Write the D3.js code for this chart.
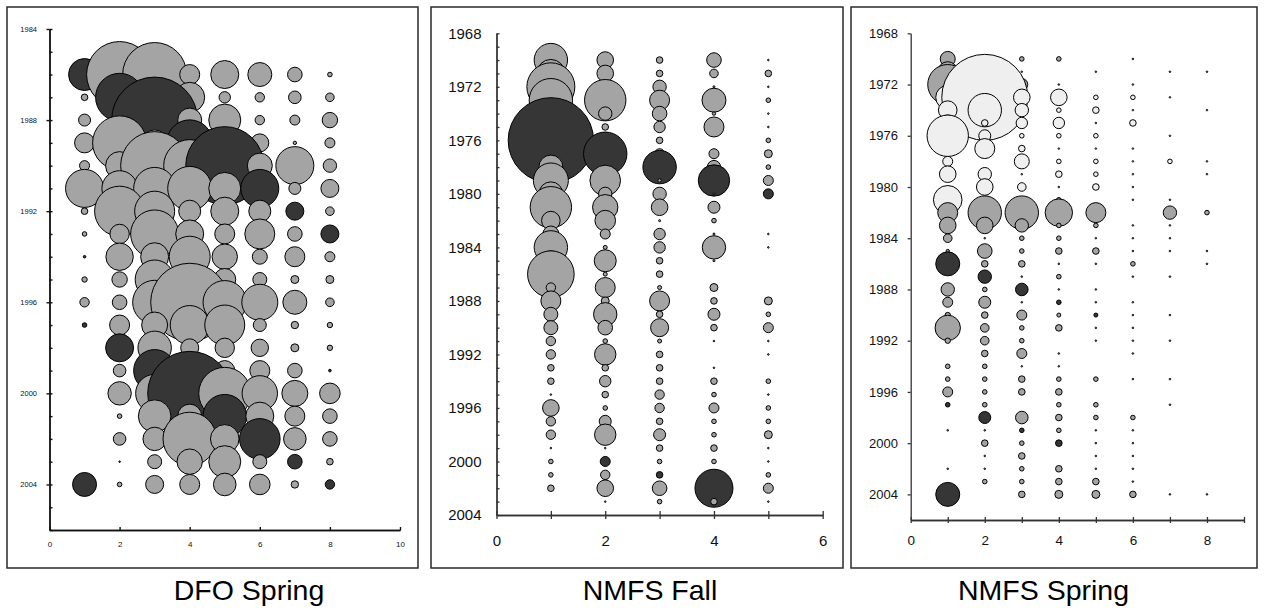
<!DOCTYPE html>
<html>
<head>
<meta charset="utf-8">
<script src="https://cdn.jsdelivr.net/npm/d3@7"></script>
<style>
  body { margin: 0; background: #fff; }
  svg { display: block; }
  text { font-family: "Liberation Sans", Arial, sans-serif; }
</style>
</head>
<body>
<svg id="chart" width="1265" height="611"></svg>
<script>
// ---- Residual bubbles by year (rows) and age (columns) ----
// kind codes: g = positive residual (grey), d = dark (flagged year), l = light (early series)

const dfoYears = d3.range(1986, 2005);
const dfoAges = [1, 2, 3, 4, 5, 6, 7, 8];
const dfoSizes = [
  [16, 33, 32, 10, 14, 12, 7.3, 2.3],
  [3.3, 24, 12, 15, 5.7, 4.7, 6.3, 4.3],
  [6, 3, 43, 12, 16, 4.7, 5, 7.7],
  [10, 27, 13, 23, 10, 9, 1.7, 5],
  [5, 14, 34, 26, 39, 12.5, 19, 6.7],
  [19, 17.7, 21, 22, 16, 19, 6, 9],
  [3.3, 25, 20, 11, 14, 11, 9, 4.3],
  [2.3, 9.7, 24, 14, 10, 15, 7.3, 9],
  [1.3, 13.7, 14, 20.5, 12.7, 7.5, 10, 5],
  [2.7, 7.7, 19.5, 15, 11, 7, 4, 4],
  [4.7, 7.3, 22, 39, 21.7, 18, 12, 4.3],
  [2.3, 10, 13, 19.5, 20, 6.5, 3.7, 2.7],
  [0, 14, 16.7, 9, 9.7, 8.7, 4, 2.7],
  [0, 6.3, 21, 12, 10, 10, 7.3, 1.3],
  [0, 11.7, 19, 42, 26, 17.7, 13, 10.3],
  [0, 2.3, 16.3, 12, 21.7, 14, 10, 7.3],
  [0, 6.3, 11.7, 26.7, 14.3, 20.3, 11.3, 7.3],
  [0, 0.8, 7, 12.7, 16, 7, 7.3, 3.3],
  [12, 2.3, 9, 10, 11.3, 10.3, 3.7, 4.7]
];
const dfoKinds = [
  "dggggggg", "gdgggggg", "ggdggggg", "gggdgggg", "ggggdggg",
  "gggggdgg", "ggggggdg", "gggggggd", "dggggggg", "gggggggg",
  "gggggggg", "dggggggg", "gdgggggg", "ggdggggd", "gggdgggg",
  "ggggdggg", "gggggdgg", "gdggggdg", "dggggggd"
];

const fallYears = d3.range(1970, 2004);
const fallAges = [1, 2, 3, 4, 5];
const fallSizes = [
  [16.7, 8.3, 3.3, 7.3, 0.8],
  [14, 8.3, 3.3, 4.3, 3.3],
  [24, 6, 6.7, 1, 0.8],
  [21.7, 20.7, 10, 12, 2.3],
  [12, 6.7, 7.3, 1.7, 0.8],
  [10, 3.3, 5.7, 10, 0.8],
  [42.7, 8, 3.3, 0, 2.3],
  [0, 21.7, 5, 5, 4],
  [12, 0, 16.7, 6.7, 2.3],
  [17.5, 15.3, 1.7, 15.7, 5],
  [12, 6.7, 6.7, 1, 5],
  [20.7, 12.7, 8.3, 6, 0],
  [9.3, 10.3, 1, 2.3, 0],
  [8, 5, 5.7, 1, 0.8],
  [16.7, 2, 5.7, 11.7, 0.8],
  [10, 11, 3.3, 1, 0],
  [23.3, 2, 3.3, 0, 0],
  [4.7, 10, 2, 4, 0],
  [10, 4, 10, 3.3, 4],
  [7, 11.7, 3.3, 6, 2.3],
  [7, 7.3, 9, 3.3, 5],
  [4.7, 2.3, 2, 0.8, 0.8],
  [4.7, 10.7, 3.3, 0, 0.8],
  [3.3, 3.3, 3.3, 0.8, 0],
  [3.3, 5.7, 3.3, 3.3, 2.3],
  [0.8, 3.3, 4.7, 2.3, 0.8],
  [8.3, 2.3, 4.7, 5, 2.3],
  [4.7, 6, 3.3, 2.3, 2.3],
  [4.7, 10.7, 6, 2.3, 4],
  [0.8, 0.8, 3.3, 3.3, 0.8],
  [2.3, 5, 2.3, 2.3, 0.8],
  [2.3, 4.7, 3.3, 0, 2.3],
  [3.3, 8.3, 7.3, 19, 5],
  [0, 0.8, 2.3, 3.3, 0.8]
];
const fallKinds = [
  "ggggg", "ggggg", "ggggg", "ggggg", "ggggg", "ggggg",
  "dgggg", "gdggg", "ggdgg", "gggdg", "ggggd",
  "ggggg", "ggggg", "ggggg", "ggggg", "ggggg", "ggggg", "ggggg",
  "ggggg", "ggggg", "ggggg", "ggggg", "ggggg", "ggggg", "ggggg",
  "ggggg", "ggggg", "ggggg", "ggggg", "ggggg",
  "gdggg", "ggdgg", "gggdg", "ggggg"
];

const springYears = d3.range(1970, 2005);
const springAges = [1, 2, 3, 4, 5, 6, 7, 8];
const springSizes = [
  [7.5, 0.8, 2.3, 2.3, 0, 0.8, 0, 0],
  [10, 5, 0.8, 0, 0.8, 0, 0.8, 0.8],
  [20, 8, 6, 0.8, 0, 0.8, 0, 0],
  [12, 43, 8.3, 8.3, 2.3, 2.3, 0.8, 0],
  [9.3, 16.7, 6.7, 2.3, 3.3, 0.8, 0, 0.8],
  [8, 3.3, 5.7, 5.7, 0.8, 3.3, 0, 0],
  [20.7, 6, 2.3, 2.3, 2.3, 0, 0.8, 0],
  [0, 10, 3.3, 0.8, 0.8, 0.8, 0, 0],
  [5, 0, 7.5, 2.3, 2.3, 0.8, 2.3, 0.8],
  [8.3, 6.7, 0.8, 3.3, 2.3, 0.8, 0, 0.8],
  [0, 8.3, 4.3, 0.8, 3.3, 0.8, 0, 0],
  [14.3, 3, 3, 2.3, 0, 0.8, 0.8, 0],
  [10, 16.7, 16.7, 13.7, 10, 0, 6.7, 2.3],
  [8.3, 8.3, 6.7, 2.3, 2.3, 0.8, 0.8, 0],
  [4.3, 0.8, 2.3, 2.3, 0.8, 0.8, 0.8, 0],
  [1.7, 7.3, 2.3, 3.3, 3.3, 0.8, 0.8, 0.8],
  [12, 3.3, 3.3, 0.8, 0.8, 2.3, 0, 0.8],
  [0, 6.7, 0.8, 2.3, 0, 0.8, 0.8, 0],
  [6.7, 2.3, 6.3, 0.8, 0.8, 0, 0, 0],
  [5, 6, 0.8, 2.3, 0.8, 0.8, 0, 0],
  [2.7, 3.3, 5, 2, 2, 0.8, 0.8, 0],
  [12.7, 4.3, 2.3, 3.3, 0.8, 0.8, 0, 0],
  [2.7, 4.3, 2.3, 0, 0.8, 0.8, 0.8, 0],
  [0, 3.3, 5, 0.8, 0, 0.8, 0, 0],
  [2.3, 2.3, 0.8, 0.8, 0, 0, 0, 0],
  [2.3, 2.3, 3.3, 2.3, 2.3, 0.8, 0.8, 0],
  [5, 2.3, 3.3, 3.3, 0, 0, 0, 0],
  [2.3, 2.3, 0, 2.3, 2.3, 0, 0.8, 0],
  [0, 6, 6.3, 3.3, 2.3, 2.3, 0, 0],
  [0.8, 0.8, 2.3, 2.3, 0.8, 0.8, 0, 0],
  [0, 3.3, 2.3, 3.3, 0.8, 0.8, 0, 0],
  [0, 0.8, 3.3, 0, 0.8, 0.8, 0, 0],
  [0.8, 0.8, 2.3, 3.3, 0.8, 0.8, 0, 0],
  [0, 2.3, 2.3, 3.3, 3.3, 0.8, 0, 0],
  [12, 0, 3.3, 4, 4, 3.3, 0.8, 0.8]
];
const springKinds = [
  "gggggggg", "gggggggg", "gggggggg",
  "llllllll", "llllllll", "llllllll", "llllllll", "llllllll",
  "llllllll", "llllllll", "llllllll", "lggggggg",
  "gggggggg", "gggggggg", "gggggggg", "gggggggg",
  "dggggggg", "gdgggggg", "ggdggggg", "gggdgggg", "ggggdggg",
  "gggggggg", "gggggggg", "gggggggg", "gggggggg", "gggggggg", "gggggggg",
  "dggggggg", "gdgggggg", "ggdggggg", "gggdgggg",
  "gggggggg", "gggggggg", "gggggggg", "dggggggg"
];

const titles = ["DFO Spring", "NMFS Fall", "NMFS Spring"];

// ---- drawing ----
const svg = d3.select("#chart");
const fills = { g: "#a4a4a4", d: "#363636", l: "#efefef" };
const r = d3.scaleLinear().domain([0, 43]).range([0, 43]);

function styleAxis(sel, size, color, width) {
  sel.attr("font-size", null).attr("font-family", null);
  sel.selectAll("text").attr("font-size", size).attr("fill", "#111");
  sel.selectAll("line").attr("stroke", color).attr("stroke-width", width);
  sel.selectAll("path.domain").attr("stroke", color).attr("stroke-width", width);
}

function drawPanel(p) {
  const g = svg.append("g");
  g.append("rect")
    .attr("x", p.frame[0]).attr("y", p.frame[1])
    .attr("width", p.frame[2] - p.frame[0]).attr("height", p.frame[3] - p.frame[1])
    .attr("fill", "none").attr("stroke", "#2a2a2a").attr("stroke-width", 1.5);

  const x = d3.scaleLinear().domain(p.xDomain).range(p.xRange);
  const y = d3.scaleLinear().domain(p.yDomain).range(p.yRange);

  const cells = [];
  p.years.forEach((yr, i) => {
    p.ages.forEach((a, j) => {
      const v = p.sizes[i][j];
      if (v > 0) cells.push({ yr, a, v, k: p.kinds[i][j] });
    });
  });

  g.append("g").selectAll("circle").data(cells).join("circle")
    .attr("cx", d => x(d.a))
    .attr("cy", d => y(d.yr))
    .attr("r", d => r(d.v))
    .attr("fill", d => fills[d.k])
    .attr("stroke", "#000")
    .attr("stroke-width", 1);

  const x0 = p.xRange[0], yb = p.yRange[1];

  // y axis: labelled/outer ticks, then inner ticks
  const ya = g.append("g").attr("transform", `translate(${x0},0)`)
    .call(d3.axisLeft(y).tickValues(p.yLabelTicks).tickSize(p.yOut).tickSizeOuter(0)
      .tickPadding(p.yPad).tickFormat(d3.format("d")));
  styleAxis(ya, p.font, p.axisColor, p.axisWidth);
  if (p.yInTicks.length) {
    const yb2 = g.append("g").attr("transform", `translate(${x0},0)`)
      .call(d3.axisLeft(y).tickValues(p.yInTicks).tickSize(-p.yIn).tickSizeOuter(0).tickFormat(""));
    styleAxis(yb2, p.font, p.axisColor, p.axisWidth);
  }

  // x axis
  const xa = g.append("g").attr("transform", `translate(0,${yb})`)
    .call(d3.axisBottom(x).tickValues(p.xTicks).tickSize(p.xOut).tickSizeOuter(0)
      .tickPadding(p.xPad).tickFormat(d => p.xLabels.includes(d) ? d : ""));
  styleAxis(xa, p.xFont, p.axisColor, p.axisWidth);
  const xb = g.append("g").attr("transform", `translate(0,${yb})`)
    .call(d3.axisBottom(x).tickValues(p.xTicks).tickSize(-p.xIn).tickSizeOuter(0).tickFormat(""));
  styleAxis(xb, p.xFont, p.axisColor, p.axisWidth);

  svg.append("text")
    .attr("x", p.titleX).attr("y", 600)
    .attr("text-anchor", "middle")
    .attr("font-size", 28.5)
    .attr("fill", "#000")
    .text(p.title);
}

drawPanel({
  title: titles[0], titleX: 249,
  frame: [7, 7, 418, 568],
  years: dfoYears, ages: dfoAges, sizes: dfoSizes, kinds: dfoKinds,
  xDomain: [0, 10], xRange: [49.5, 400],
  yDomain: [1984, 2006], yRange: [29, 530],
  yLabelTicks: [1984, 1988, 1992, 1996, 2000, 2004], yOut: 3, yPad: 9.5,
  yInTicks: d3.range(1984, 2007), yIn: 3,
  xTicks: [0, 2, 4, 6, 8, 10], xLabels: [0, 2, 4, 6, 8, 10], xOut: 0, xIn: 3, xPad: 11,
  font: 7.5, xFont: 8, axisColor: "#111", axisWidth: 1.4
});

drawPanel({
  title: titles[1], titleX: 650,
  frame: [431, 7, 843, 568],
  years: fallYears, ages: fallAges, sizes: fallSizes, kinds: fallKinds,
  xDomain: [0, 6], xRange: [496.5, 822.7],
  yDomain: [1968, 2004], yRange: [33.3, 515],
  yLabelTicks: [1968, 1972, 1976, 1980, 1984, 1988, 1992, 1996, 2000, 2004], yOut: 0, yPad: 15,
  yInTicks: d3.range(1968, 2005), yIn: 3,
  xTicks: [0, 1, 2, 3, 4, 5, 6], xLabels: [0, 2, 4, 6], xOut: 4, xIn: 4, xPad: 16,
  font: 15, xFont: 15, axisColor: "#333", axisWidth: 1.3
});

drawPanel({
  title: titles[2], titleX: 1043.5,
  frame: [851, 7, 1257, 568],
  years: springYears, ages: springAges, sizes: springSizes, kinds: springKinds,
  xDomain: [0, 9], xRange: [910.7, 1244],
  yDomain: [1968, 2006], yRange: [33.3, 520],
  yLabelTicks: [1968, 1972, 1976, 1980, 1984, 1988, 1992, 1996, 2000, 2004], yOut: 3, yPad: 9.7,
  yInTicks: [], yIn: 0,
  xTicks: [0, 1, 2, 3, 4, 5, 6, 7, 8, 9], xLabels: [0, 2, 4, 6, 8], xOut: 3, xIn: 3, xPad: 12,
  font: 13, xFont: 13.5, axisColor: "#333", axisWidth: 1.3
});
</script>
</body>
</html>
